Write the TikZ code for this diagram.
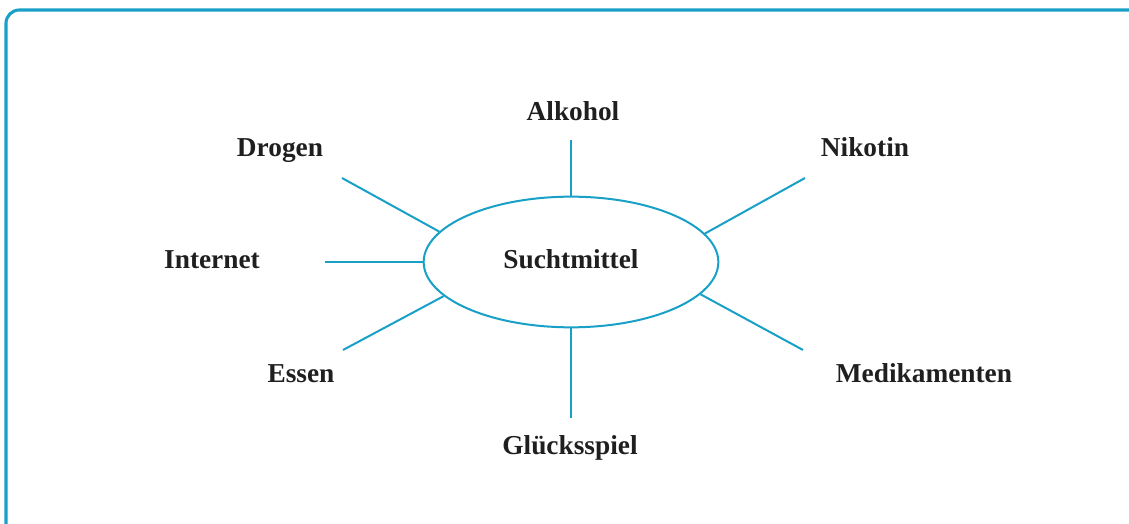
\documentclass[tikz,border=0pt]{standalone}
\usepackage{fontspec}
\setmainfont{Liberation Serif}
\usetikzlibrary{shapes.geometric}
\definecolor{suchtblau}{RGB}{24,160,199}
\tikzset{
  spoke/.style={draw=suchtblau, line width=1.5pt},
  label/.style={anchor=base, inner sep=0pt, font=\fontsize{20.5}{24}\selectfont\bfseries, text=black!88},
}
\begin{document}
\begin{tikzpicture}[x=0.75pt,y=0.75pt,yscale=-1,xscale=1]
\path[use as bounding box] (0,0) rectangle (1129,524);

%Frame, open at right and bottom
\draw [suchtblau, line width=2.3pt, rounded corners=10pt] (6,560) -- (6,10) -- (1160,10) ;

%Shape: Ellipse
\node [ellipse, draw=suchtblau, line width=1.5pt, minimum width=221pt, minimum height=98pt, inner sep=0pt] (sucht) at (571,262) {};
\node [label] (suchtlbl) at (571,269) {Suchtmittel};

% Text Node
\node [label] (alkohol) at (573,121) {Alkohol};
\node [label] (drogen) at (280,157) {Drogen};
\node [label] (nikotin) at (865,157) {Nikotin};
\node [label] (internet) at (212,269) {Internet};
\node [label] (essen) at (301,382) {Essen};
\node [label] (medik) at (924,382) {Medikamenten};
\node [label] (gluck) at (570,454) {Glücksspiel};

%Straight Lines
\coordinate (alkoholend) at (571,140);
\coordinate (drogenend) at (342,178);
\coordinate (nikotinend) at (805,178);
\coordinate (internetend) at (325,262);
\coordinate (essenend) at (343,350);
\coordinate (medikend) at (803,350);
\coordinate (gluckend) at (571,418);
\draw [spoke] (alkoholend) -- (sucht.north) ;
\draw [spoke] (drogenend) -- (sucht.167) ;
\draw [spoke] (nikotinend) -- (sucht.12) ;
\draw [spoke] (internetend) -- (sucht.west) ;
\draw [spoke] (essenend) -- (sucht.195) ;
\draw [spoke] (medikend) -- (sucht.-14) ;
\draw [spoke] (gluckend) -- (sucht.south) ;

\end{tikzpicture}
\end{document}
